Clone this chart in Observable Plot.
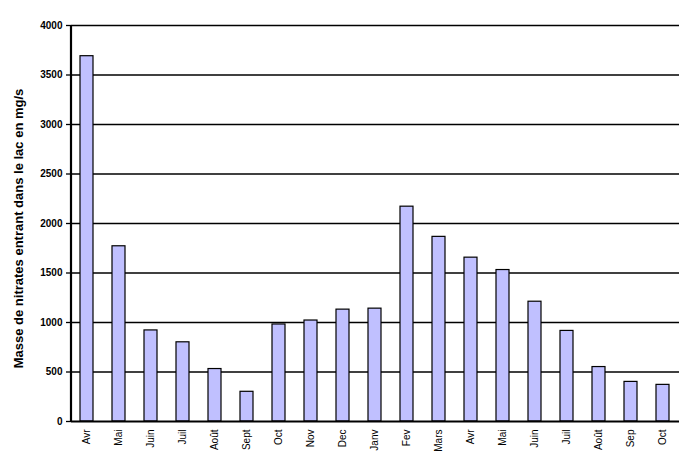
<!DOCTYPE html>
<html>
<head>
<meta charset="utf-8">
<script src="https://cdn.jsdelivr.net/npm/d3@7"></script>
<script src="https://cdn.jsdelivr.net/npm/@observablehq/plot@0.6"></script>
<style>
  html, body { margin: 0; padding: 0; background: #fff; }
  #chart { width: 691px; height: 460px; }
  svg text { font-family: "Liberation Sans", Arial, sans-serif; }
</style>
</head>
<body>
<div id="chart"></div>
<script>
const months = ["Avr","Mai","Juin","Juil","Août","Sept","Oct","Nov","Dec","Janv","Fev","Mars","Avr","Mai","Juin","Juil","Août","Sep","Oct"];
const values = [3690,1770,920,800,530,300,980,1020,1130,1140,2170,1865,1655,1530,1210,915,550,400,370];
const yTicks = [0,500,1000,1500,2000,2500,3000,3500,4000];
const yLabel = "Masse de nitrates entrant dans le lac en mg/s";

const data = months.map((m, i) => ({i, m, v: values[i]}));

// left axis line drawn from the plot's own dimensions
function leftAxisLine(index, scales, values, dimensions) {
  const {marginLeft, marginTop, height, marginBottom} = dimensions;
  const g = d3.create("svg:line")
    .attr("x1", marginLeft).attr("x2", marginLeft)
    .attr("y1", marginTop).attr("y2", height - marginBottom)
    .attr("stroke", "#000").attr("stroke-width", 2.2);
  return g.node();
}

const chart = Plot.plot({
  width: 691,
  height: 460,
  marginLeft: 71,
  marginRight: 12,
  marginTop: 25,
  marginBottom: 39,
  style: {fontFamily: "Liberation Sans, Arial, sans-serif", background: "#fff", overflow: "visible"},
  x: {domain: d3.range(months.length), paddingInner: 0.58, paddingOuter: 0.29, label: null, axis: null},
  y: {domain: [0, 4000], ticks: yTicks, label: null, axis: null},
  marks: [
    Plot.ruleY(yTicks.filter(t => t > 0), {stroke: "#000", strokeWidth: 1.3}),
    Plot.barY(data, {x: "i", y: "v", fill: "#c0c0ff", stroke: "#000", strokeWidth: 1.2}),
    Plot.axisY({ticks: yTicks, tickSize: 5, tickPadding: 4, tickFormat: d => String(d), fontSize: 10, fontWeight: "bold", stroke: "#000", strokeWidth: 1.3, label: null}),
    Plot.ruleY([0], {stroke: "#000", strokeWidth: 2}),
    leftAxisLine,
    Plot.axisX({tickSize: 0, tickRotate: -90, tickPadding: 8, tickFormat: i => months[i], fontSize: 10, label: null}),
    Plot.text([yLabel], {frameAnchor: "left", dx: -53, dy: 5, rotate: -90, textAnchor: "middle", fontSize: 13, fontWeight: "bold", fill: "#000"})
  ]
});
document.getElementById("chart").appendChild(chart);
</script>
</body>
</html>
